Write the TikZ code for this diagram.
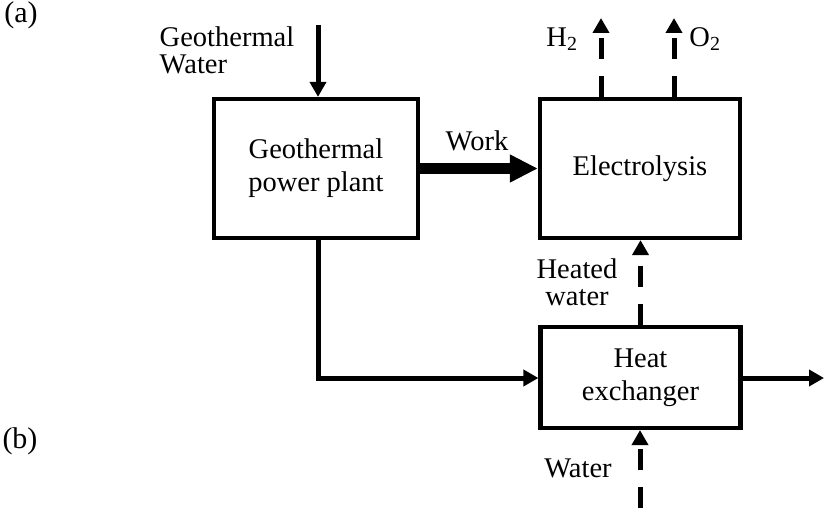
\documentclass[tikz,border=0pt]{standalone}
\usepackage{fontspec}
\setmainfont{Liberation Serif}
\usetikzlibrary{arrows.meta}
\begin{document}
\begin{tikzpicture}[x=1pt,y=-1pt,
  box/.style={draw, line width=4.2pt, align=center, inner sep=0pt, font=\fontsize{28.5}{33}\selectfont},
  lbl/.style={align=center, inner sep=0pt, font=\fontsize{28.5}{27}\selectfont},
  tag/.style={inner sep=0pt, font=\fontsize{30}{32}\selectfont},
  flow/.style={line width=5pt, -{Triangle[length=15pt,width=16pt]}},
  dflow/.style={flow, dash pattern=on 21pt off 17pt},
  bigflow/.style={line width=11pt, -{Triangle[length=28pt,width=26pt]}}
]
\useasboundingbox (0,0) rectangle (826,508);

\node[tag] (ta) at (21,15) {(a)};
\node[tag] (tb) at (20,441) {(b)};

\node[box, minimum width=204pt, minimum height=139pt] (geo) at (316,168.5) {Geothermal\\power plant};
\node[box, minimum width=200pt, minimum height=139pt] (ely) at (640,168.5) {Electrolysis};
\node[box, minimum width=200pt, minimum height=101pt] (hx) at (640.5,377.5) {Heat\\exchanger};

\node[lbl, align=left] (gwl) at (227,50) {Geothermal\\Water};
\node[lbl] (work) at (477,141) {Work};
\node[lbl] (h2l) at (562,39) {H\textsubscript{2}};
\node[lbl] (o2l) at (705,39) {O\textsubscript{2}};
\node[lbl] (hwl) at (577,282) {Heated\\water};
\node[lbl] (wl) at (578,468) {Water};

\coordinate (gwin) at (318,25);
\coordinate (h2) at (601,18);
\coordinate (o2) at (674,18);
\coordinate (bend) at (318,378);
\coordinate (out) at (824,378);
\coordinate (win) at (640,508);

\draw[flow] (gwin) -- (gwin |- geo.north);
\draw[bigflow] (geo) -- (ely);
\draw[dflow] (h2 |- ely.north) -- (h2);
\draw[dflow] (o2 |- ely.north) -- (o2);
\draw[flow] (bend |- geo.south) -- (bend) -- (bend -| hx.west);
\draw[flow] (hx.east |- out) -- (out);
\draw[dflow] (hx.north) -- (hx.north |- ely.south);
\draw[dflow] (win) -- (win |- hx.south);
\end{tikzpicture}
\end{document}
